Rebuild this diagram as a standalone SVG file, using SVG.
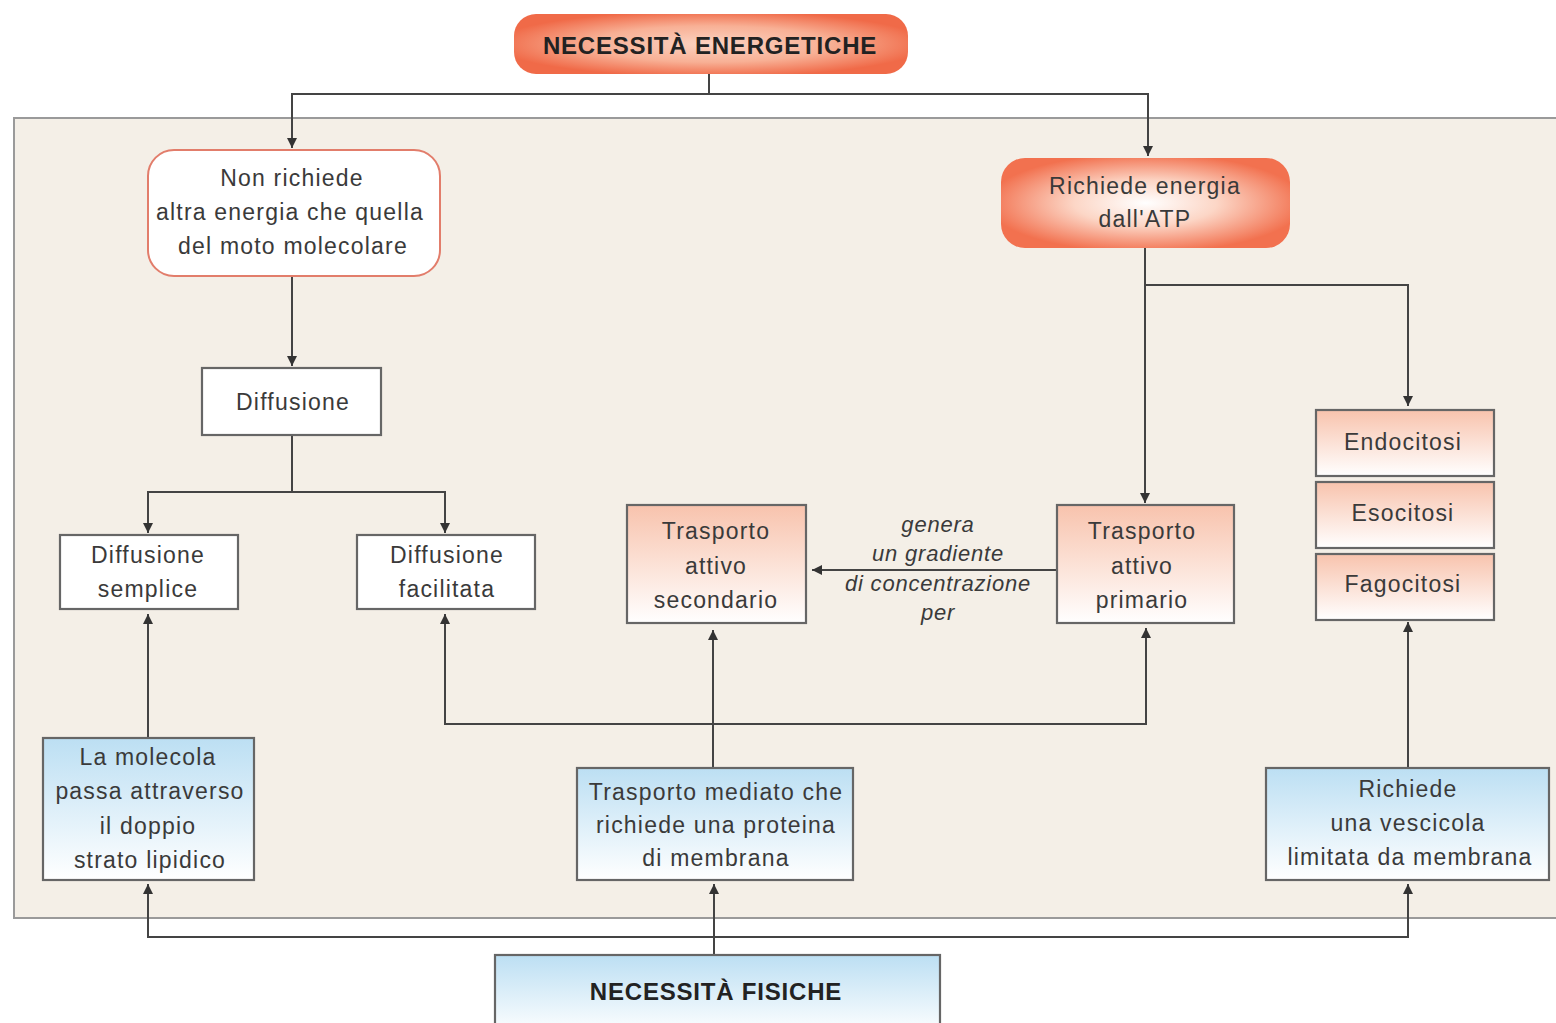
<svg xmlns="http://www.w3.org/2000/svg" width="1556" height="1023" viewBox="0 0 1556 1023">
<defs>
<radialGradient id="gSal" cx="50%" cy="50%" r="55%">
<stop offset="0%" stop-color="#ffffff"/>
<stop offset="45%" stop-color="#fcd6c6"/>
<stop offset="100%" stop-color="#f2714f"/>
</radialGradient>
<radialGradient id="gSalTop" cx="50%" cy="50%" r="55%">
<stop offset="0%" stop-color="#fbd3c2"/>
<stop offset="55%" stop-color="#f8b095"/>
<stop offset="100%" stop-color="#f06a48"/>
</radialGradient>
<linearGradient id="gPink" x1="0" y1="0" x2="0" y2="1">
<stop offset="0%" stop-color="#f8c3ad"/>
<stop offset="100%" stop-color="#ffffff"/>
</linearGradient>
<linearGradient id="gBlue" x1="0" y1="0" x2="0" y2="1">
<stop offset="0%" stop-color="#bcdff3"/>
<stop offset="100%" stop-color="#ffffff"/>
</linearGradient>
<marker id="arr" viewBox="0 0 10 10" refX="10" refY="5" markerWidth="5" markerHeight="5" orient="auto" markerUnits="strokeWidth">
<path d="M0,0 L10,5 L0,10 Z" fill="#333"/>
</marker>
</defs>
<style>
.t{font-family:"Liberation Sans",Arial,sans-serif;font-size:23px;letter-spacing:1.2px;fill:#3a3a3a;text-anchor:middle}
.b{font-weight:bold;font-size:24px;letter-spacing:0.8px;fill:#222}
.i{font-style:italic;font-size:22px;letter-spacing:0.8px}
.box{stroke:#666;stroke-width:2.2}
.c{fill:none;stroke:#444;stroke-width:2}
</style>
<rect x="0" y="0" width="1556" height="1023" fill="#ffffff"/>
<rect x="14" y="118" width="1550" height="800" fill="#f4efe7" stroke="#9a9a9a" stroke-width="2"/>

<g id="connectors">
<path class="c" d="M709,74 V94 H292 V148" marker-end="url(#arr)"/>
<path class="c" d="M709,94 H1148 V156" marker-end="url(#arr)"/>
<path class="c" d="M292,276 V366" marker-end="url(#arr)"/>
<path class="c" d="M292,435 V492 H148 V533" marker-end="url(#arr)"/>
<path class="c" d="M292,492 H445 V533" marker-end="url(#arr)"/>
<path class="c" d="M1145,248 V285 H1408 V406" marker-end="url(#arr)"/>
<path class="c" d="M1145,285 V503" marker-end="url(#arr)"/>
<path class="c" d="M1057,570 H812" marker-end="url(#arr)"/>
<path class="c" d="M148,738 V614" marker-end="url(#arr)"/>
<path class="c" d="M713,768 V630" marker-end="url(#arr)"/>
<path class="c" d="M713,724 H445 V614" marker-end="url(#arr)"/>
<path class="c" d="M713,724 H1146 V628" marker-end="url(#arr)"/>
<path class="c" d="M1408,768 V622" marker-end="url(#arr)"/>
<path class="c" d="M714,955 V884" marker-end="url(#arr)"/>
<path class="c" d="M714,937 H148 V884" marker-end="url(#arr)"/>
<path class="c" d="M714,937 H1408 V884" marker-end="url(#arr)"/>
</g>

<g id="n-energetiche">
<rect x="514" y="14" width="394" height="60" rx="22" fill="url(#gSalTop)"/>
<text class="t b" x="710" y="54">NECESSITÀ ENERGETICHE</text>
</g>

<g id="n-nonrichiede">
<rect x="148" y="150" width="292" height="126" rx="26" fill="#ffffff" stroke="#e27d6b" stroke-width="2"/>
<text class="t" x="292" y="186">Non richiede</text>
<text class="t" x="290" y="220">altra energia che quella</text>
<text class="t" x="293" y="254">del moto molecolare</text>
</g>

<g id="n-atp">
<rect x="1001" y="158" width="289" height="90" rx="24" fill="url(#gSal)"/>
<text class="t" x="1145" y="194">Richiede energia</text>
<text class="t" x="1145" y="227">dall'ATP</text>
</g>

<g id="n-diffusione">
<rect class="box" x="202" y="368" width="179" height="67" fill="#ffffff"/>
<text class="t" x="293" y="410">Diffusione</text>
</g>

<g id="n-semplice">
<rect class="box" x="60" y="535" width="178" height="74" fill="#ffffff"/>
<text class="t" x="148" y="563">Diffusione</text>
<text class="t" x="148" y="597">semplice</text>
</g>

<g id="n-facilitata">
<rect class="box" x="357" y="535" width="178" height="74" fill="#ffffff"/>
<text class="t" x="447" y="563">Diffusione</text>
<text class="t" x="447" y="597">facilitata</text>
</g>

<g id="n-secondario">
<rect class="box" x="627" y="505" width="179" height="118" fill="url(#gPink)"/>
<text class="t" x="716" y="539">Trasporto</text>
<text class="t" x="716" y="574">attivo</text>
<text class="t" x="716" y="608">secondario</text>
</g>

<g id="n-primario">
<rect class="box" x="1057" y="505" width="177" height="118" fill="url(#gPink)"/>
<text class="t" x="1142" y="539">Trasporto</text>
<text class="t" x="1142" y="574">attivo</text>
<text class="t" x="1142" y="608">primario</text>
</g>

<g id="edge-label">
<text class="t i" x="938" y="532">genera</text>
<text class="t i" x="938" y="561">un gradiente</text>
<text class="t i" x="938" y="591">di concentrazione</text>
<text class="t i" x="938" y="620">per</text>
</g>

<g id="n-endocitosi">
<rect class="box" x="1316" y="410" width="178" height="66" fill="url(#gPink)"/>
<text class="t" x="1403" y="450">Endocitosi</text>
</g>
<g id="n-esocitosi">
<rect class="box" x="1316" y="482" width="178" height="66" fill="url(#gPink)"/>
<text class="t" x="1403" y="521">Esocitosi</text>
</g>
<g id="n-fagocitosi">
<rect class="box" x="1316" y="554" width="178" height="66" fill="url(#gPink)"/>
<text class="t" x="1403" y="592">Fagocitosi</text>
</g>

<g id="n-molecola">
<rect class="box" x="43" y="738" width="211" height="142" fill="url(#gBlue)"/>
<text class="t" x="148" y="765">La molecola</text>
<text class="t" x="150" y="799">passa attraverso</text>
<text class="t" x="148" y="834">il doppio</text>
<text class="t" x="150" y="868">strato lipidico</text>
</g>

<g id="n-mediato">
<rect class="box" x="577" y="768" width="276" height="112" fill="url(#gBlue)"/>
<text class="t" x="716" y="800">Trasporto mediato che</text>
<text class="t" x="716" y="833">richiede una proteina</text>
<text class="t" x="716" y="866">di membrana</text>
</g>

<g id="n-vescicola">
<rect class="box" x="1266" y="768" width="283" height="112" fill="url(#gBlue)"/>
<text class="t" x="1408" y="797">Richiede</text>
<text class="t" x="1408" y="831">una vescicola</text>
<text class="t" x="1410" y="865">limitata da membrana</text>
</g>

<g id="n-fisiche">
<rect class="box" x="495" y="955" width="445" height="80" fill="url(#gBlue)"/>
<text class="t b" x="716" y="1000">NECESSITÀ FISICHE</text>
</g>
</svg>
